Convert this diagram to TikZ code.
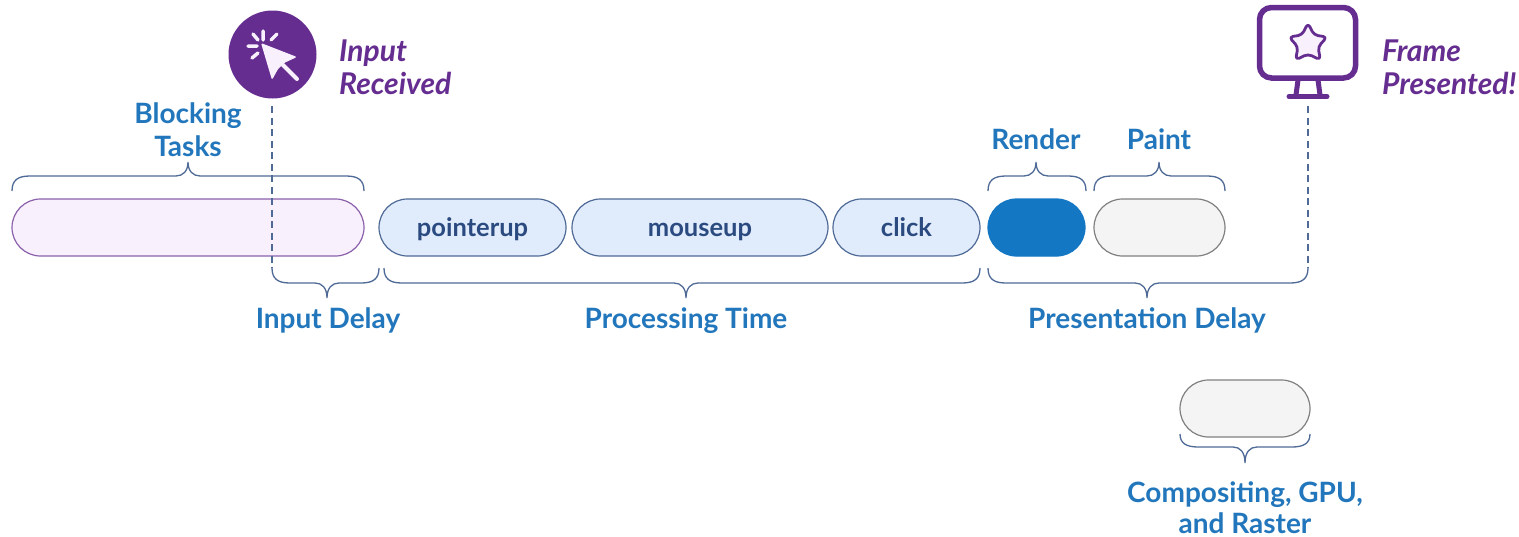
\documentclass[tikz,border=0pt]{standalone}
\usepackage{fontspec}
\setmainfont{Lato}
\usetikzlibrary{shapes.misc}
\definecolor{txtblue}{HTML}{2277BC}
\definecolor{brace}{HTML}{4F6A96}
\definecolor{purp}{HTML}{662D91}
\definecolor{pilltxt}{HTML}{2B4A80}
\definecolor{lilac}{HTML}{F8F0FD}
\definecolor{pale}{HTML}{E0ECFC}
\definecolor{solid}{HTML}{1477C4}
\definecolor{grayfill}{HTML}{F4F4F4}
\tikzset{
 x=1pt,y=-1pt,
 pill/.style={rounded rectangle,draw=#1,line width=1.2pt,minimum height=57pt,inner sep=0pt,text=pilltxt,text height=20pt,text depth=3pt,font=\fontsize{25.5}{28}\selectfont\bfseries},
 lab/.style={text=txtblue,font=\fontsize{28}{33}\selectfont\bfseries,align=center,inner sep=0pt},
 event/.style={text=purp,font=\fontsize{30}{33}\selectfont\bfseries\itshape,align=left,anchor=west,inner sep=0pt},
 bracket/.style={draw=brace,line width=1.3pt},
 conn/.style={draw=brace,line width=1.1pt,dash pattern=on 7pt off 4.5pt},
}
% brace: x1, x2, tip, yend, ybar, ytip
\newcommand{\ubrace}[6]{\draw[bracket] (#1,#4) .. controls (#1,#5+4) and (#1+6,#5) .. (#1+18,#5) -- (#3-12,#5) .. controls (#3-5,#5) and (#3,#5-5) .. (#3,#6) .. controls (#3,#5-5) and (#3+5,#5) .. (#3+12,#5) -- (#2-18,#5) .. controls (#2-6,#5) and (#2,#5+4) .. (#2,#4);}
\newcommand{\dbrace}[6]{\draw[bracket] (#1,#4) .. controls (#1,#5-4) and (#1+6,#5) .. (#1+18,#5) -- (#3-12,#5) .. controls (#3-5,#5) and (#3,#5+5) .. (#3,#6) .. controls (#3,#5+5) and (#3+5,#5) .. (#3+12,#5) -- (#2-18,#5) .. controls (#2-6,#5) and (#2,#5-4) .. (#2,#4);}
\begin{document}
\begin{tikzpicture}
\useasboundingbox (0,0) rectangle (1519,536);
\fill[white] (0,0) rectangle (1519,536);
% pills
\node[pill=purp!75,fill=lilac,minimum width=352pt] (blocking) at (188,227.5) {};
\node[pill=brace,fill=pale,minimum width=187pt] (pointerup) at (472.5,227.5) {pointerup};
\node[pill=brace,fill=pale,minimum width=256pt] (mouseup) at (700,227.5) {mouseup};
\node[pill=brace,fill=pale,minimum width=147pt] (click) at (906.5,227.5) {click};
\node[pill=solid,fill=solid,minimum width=97pt] (render) at (1036.5,227.5) {};
\node[pill=black!50,fill=grayfill,minimum width=131pt] (paint) at (1159.5,227.5) {};
\node[pill=black!50,fill=grayfill,minimum width=130pt] (compositing) at (1245,408.5) {};
% icons
\node[circle,fill=purp,minimum size=88pt,inner sep=0pt] (inputicon) at (272.5,54.5) {};
\fill[lilac,rounded corners=1.5pt] (261,43) -- (297,57) -- (284,63) -- (278,69) -- (272,80) -- cycle;
\draw[lilac,line width=4pt,line cap=round] (281,63) -- (297,79);
\draw[lilac,line width=3.5pt,line cap=round] (263,31) -- (263,40) (277,34) -- (271,40) (253,34) -- (258,40) (248,46) -- (257,46) (252,58) -- (258,53);
\draw[purp,line width=5.5pt,rounded corners=12pt,fill=white] (1259.5,7.5) rectangle (1355.5,78);
\draw[purp,line width=5pt] (1298,80) -- (1296,95) (1318,80) -- (1320,95);
\draw[purp,line width=5pt,line cap=round] (1289,96.5) -- (1327,96.5);
\draw[purp,line width=2.8pt,fill=lilac,line join=round,rounded corners=4pt] (1308,23) -- (1314,35) -- (1327,37) -- (1318,47) -- (1320.5,60) -- (1308,54) -- (1295.5,60) -- (1298,47) -- (1289,37) -- (1302,35) -- cycle;
\node[minimum size=0pt,inner sep=0pt] (frameicon) at (1308,100) {};
% free ends
\coordinate (inputend) at (272,268);
\coordinate (frameend) at (1308,268);
\draw[conn] (272,106) -- (inputend);
\draw[conn] (1308,106) -- (frameend);
% braces
\ubrace{12}{364}{188}{191}{176}{162}
\ubrace{988}{1086}{1036}{191}{176}{162}
\ubrace{1094}{1225}{1159}{191}{176}{162}
\dbrace{272}{379}{327}{268}{283}{298}
\dbrace{384}{980}{686}{268}{283}{298}
\dbrace{988}{1308}{1147}{268}{283}{298}
\dbrace{1180}{1310}{1245}{434}{447}{463}
% labels
\node[lab] (blk) at (188,129.5) {Blocking\\Tasks};
\node[lab] (rnd) at (1036,139) {Render};
\node[lab] (pnt) at (1159,139) {Paint};
\node[lab] (ind) at (328,320.5) {Input Delay};
\node[lab] (prc) at (686,320.5) {Processing Time};
\node[lab] (prs) at (1147,320.5) {Presentation Delay};
\node[lab] (cmp) at (1245,507.5) {Compositing, GPU,\\[-2pt]and Raster};
\node[event] (inp) at (339,67) {Input\\Received};
\node[event] (frm) at (1382,67) {Frame\\Presented!};
\end{tikzpicture}
\end{document}
